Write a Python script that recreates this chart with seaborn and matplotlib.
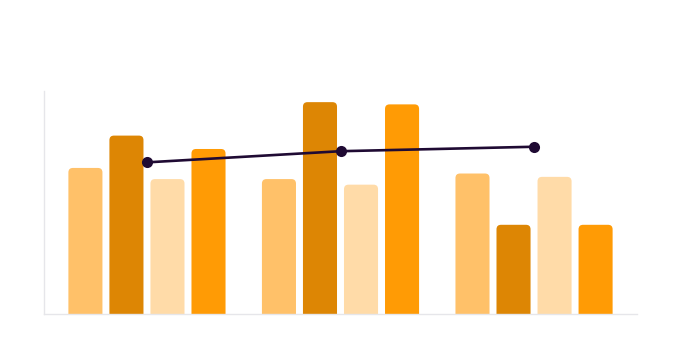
import matplotlib
matplotlib.use("Agg")
import matplotlib.pyplot as plt
import seaborn as sns
import pandas as pd
from matplotlib.patches import FancyBboxPatch

categories = ["A", "B", "C"]
series_names = ["S1", "S2", "S3", "S4"]
s1 = [65.5, 60.5, 63.0]
s2 = [80.0, 95.0, 40.0]
s3 = [60.5, 58.0, 61.5]
s4 = [74.0, 94.0, 40.0]
line_vals = [68.0, 73.0, 75.0]

colors = ["#FFC169", "#DD8604", "#FFDBA8", "#FF9B05"]
line_color = "#1F0A33"

rows = []
for name, vals in zip(series_names, [s1, s2, s3, s4]):
    for c, v in zip(categories, vals):
        rows.append({"cat": c, "series": name, "value": v})
df = pd.DataFrame(rows)
line_df = pd.DataFrame({"pos": list(range(len(categories))), "value": line_vals})

sns.set_theme(style="white")
W, H = 683, 351
fig = plt.figure(figsize=(W / 100, H / 100), dpi=100)
ax = fig.add_axes([44 / W, (H - 314) / H, 593 / W, (314 - 91) / H])

sns.barplot(data=df, x="cat", y="value", hue="series", palette=colors,
            width=0.848, gap=0.17, legend=False, ax=ax, errorbar=None,
            saturation=1, linewidth=0)

xlim = (-0.532, 2.532)
ylim = (0, 100)
ax.set_xlim(*xlim)
ax.set_ylim(*ylim)

# rounded top corners
px_per_x = 593 / (xlim[1] - xlim[0])
px_per_y = 223 / (ylim[1] - ylim[0])
r_px = 4.5
for p in list(ax.patches):
    x, y = p.get_x(), p.get_y()
    w, h = p.get_width(), p.get_height()
    fc = p.get_facecolor()
    p.remove()
    rx = r_px / px_per_x
    ry = r_px / px_per_y
    fb = FancyBboxPatch((x, y - ry), w, h + ry,
                        boxstyle=f"round,pad=0,rounding_size={rx}",
                        mutation_aspect=ry / rx,
                        facecolor=fc, edgecolor="none", zorder=2)
    ax.add_patch(fb)

sns.lineplot(data=line_df, x="pos", y="value", color=line_color,
             linewidth=1.9, marker="o", markersize=8, markeredgewidth=0,
             ax=ax, zorder=5)

ax.set_xlim(*xlim)
ax.set_ylim(*ylim)
ax.set_xlabel("")
ax.set_ylabel("")
ax.set_xticks([])
ax.set_yticks([])
for s in ["top", "right"]:
    ax.spines[s].set_visible(False)
for s in ["left", "bottom"]:
    ax.spines[s].set_color("#E6E6EA")
    ax.spines[s].set_linewidth(1)

fig.savefig("out.png", dpi=100, facecolor="white")
